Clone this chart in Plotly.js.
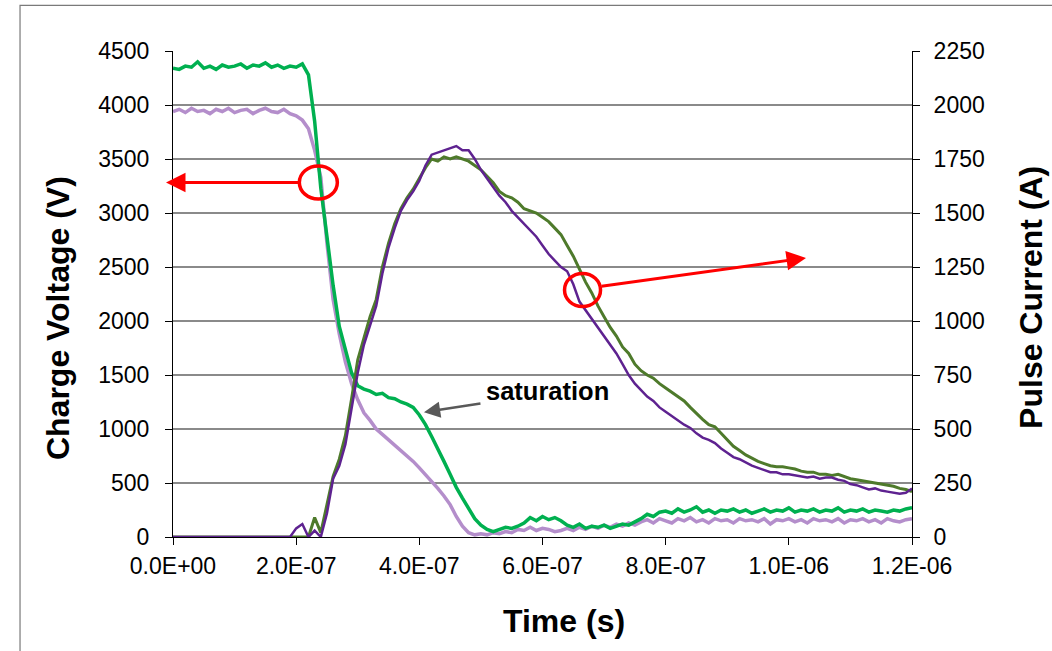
<!DOCTYPE html>
<html>
<head>
<meta charset="utf-8">
<script src="https://cdn.plot.ly/plotly-3.0.1.min.js"></script>
<style>
html, body { margin: 0; padding: 0; background: #ffffff; }
#chart { width: 1052px; height: 651px; }
</style>
</head>
<body>
<div id="chart"></div>
<script>
// Time in nanoseconds
const timeNs = [
  0, 10, 20, 30, 40, 50, 60, 70, 80, 90,
  100, 110, 120, 130, 140, 150, 160, 170, 180, 190,
  200, 210, 220, 230, 240, 250, 260, 270, 280, 290,
  300, 310, 320, 330, 340, 350, 360, 370, 380, 390,
  400, 410, 420, 430, 440, 450, 460, 470, 480, 490,
  500, 510, 520, 530, 540, 550, 560, 570, 580, 590,
  600, 610, 620, 630, 640, 650, 660, 670, 680, 690,
  700, 710, 720, 730, 740, 750, 760, 770, 780, 790,
  800, 810, 820, 830, 840, 850, 860, 870, 880, 890,
  900, 910, 920, 930, 940, 950, 960, 970, 980, 990,
  1000, 1010, 1020, 1030, 1040, 1050, 1060, 1070, 1080, 1090,
  1100, 1110, 1120, 1130, 1140, 1150, 1160, 1170, 1180, 1190, 1200
];

// Charge voltage, bright green trace (V, left axis)
const voltageGreen = [
  4340, 4330, 4360, 4350, 4400, 4340, 4360, 4330, 4370, 4350,
  4360, 4380, 4340, 4370, 4360, 4390, 4350, 4370, 4340, 4360,
  4350, 4380, 4280, 3850, 3230, 2750, 2330, 1950, 1720, 1520,
  1400, 1370, 1350, 1320, 1330, 1290, 1280, 1250, 1230, 1200,
  1130, 1040, 930, 820, 700, 580, 460, 360, 260, 170,
  110, 70, 50, 70, 90, 80, 100, 130, 180, 150,
  190, 160, 180, 150, 110, 90, 120, 80, 100, 90,
  110, 80, 100, 120, 110, 140, 170, 210, 190, 230,
  240, 220, 260, 230, 250, 280, 230, 250, 220, 250,
  240, 260, 230, 250, 220, 240, 260, 230, 250, 240,
  270, 230, 250, 240, 260, 230, 250, 240, 270, 230,
  250, 240, 260, 230, 250, 240, 230, 250, 240, 260, 270
];

// Charge voltage, light purple trace (V, left axis)
const voltagePurple = [
  3940, 3960, 3930, 3970, 3940, 3950, 3920, 3960, 3940, 3970,
  3930, 3950, 3960, 3920, 3950, 3970, 3940, 3930, 3960, 3920,
  3900, 3860, 3780, 3580, 3330, 2720, 2200, 1880, 1620, 1420,
  1270, 1150, 1080, 1000, 950, 900, 860, 810, 760, 700,
  640, 580, 510, 450, 380, 300, 190, 100, 40, 20,
  30, 20, 40, 30, 50, 40, 70, 60, 90, 60,
  80, 70, 50, 60, 80, 60, 90, 70, 100, 80,
  110, 90, 120, 100, 130, 110, 140, 160, 130, 170,
  150, 130, 170, 150, 180, 140, 160, 130, 170, 150,
  160, 130, 170, 150, 160, 140, 170, 120, 160, 150,
  170, 140, 160, 130, 170, 150, 160, 140, 170, 130,
  160, 150, 170, 140, 160, 130, 170, 150, 140, 160, 170
];

// Pulse current, dark green trace (A, right axis)
const currentGreen = [
  0, 0, 0, 0, 0, 0, 0, 0, 0, 0,
  0, 0, 0, 0, 0, 0, 0, 0, 0, 0,
  0, 0, 0, 90, 20, 150, 280, 360, 470, 640,
  820, 920, 1020, 1100, 1250, 1360, 1450, 1520, 1570, 1610,
  1660, 1710, 1750, 1740, 1760, 1750, 1760, 1750, 1740, 1720,
  1700, 1670, 1640, 1600, 1580, 1570, 1550, 1520, 1510, 1500,
  1480, 1460, 1430, 1400, 1350, 1300, 1240, 1180, 1130, 1070,
  1020, 970, 930, 880, 850, 800, 770, 750, 735, 710,
  690, 670, 650, 630, 600, 570, 545, 520, 510, 480,
  450, 420, 400, 380, 365, 350, 340, 330, 325, 325,
  320, 315, 305, 300, 300, 290, 290, 285, 290, 280,
  270, 265, 260, 255, 250, 245, 240, 235, 225, 220, 210
];

// Pulse current, dark purple trace (A, right axis)
const currentPurple = [
  0, 0, 0, 0, 0, 0, 0, 0, 0, 0,
  0, 0, 0, 0, 0, 0, 0, 0, 0, 0,
  40, 60, 0, 30, 0, 110, 270, 330, 430, 590,
  760, 890, 980, 1070, 1220, 1340, 1430, 1510, 1560, 1600,
  1650, 1720, 1770, 1780, 1790, 1800, 1810, 1790, 1790, 1750,
  1700, 1660, 1620, 1580, 1550, 1510, 1480, 1450, 1420, 1390,
  1350, 1310, 1280, 1250, 1230, 1170, 1090, 1050, 1010, 970,
  930, 890, 850, 800, 750, 710, 680, 650, 630, 600,
  580, 560, 540, 520, 505, 480, 460, 450, 435, 410,
  390, 370, 360, 345, 330, 320, 310, 300, 300, 290,
  290, 285, 280, 275, 280, 270, 275, 275, 265, 260,
  245, 240, 230, 220, 225, 215, 210, 205, 200, 205, 225
];

const xTickVals = [0, 2e-7, 4e-7, 6e-7, 8e-7, 1e-6, 1.2e-6];
const xTickText = ['0.0E+00', '2.0E-07', '4.0E-07', '6.0E-07', '8.0E-07', '1.0E-06', '1.2E-06'];

const timeS = timeNs.map(v => v * 1e-9);

const FONT = 'Liberation Sans, Arial, Helvetica, sans-serif';

const traces = [
  { x: timeS, y: voltagePurple, yaxis: 'y', type: 'scatter', mode: 'lines',
    line: { color: '#B48ECB', width: 3.5 }, hoverinfo: 'skip' },
  { x: timeS, y: voltageGreen, yaxis: 'y', type: 'scatter', mode: 'lines',
    line: { color: '#00B050', width: 3.5 }, hoverinfo: 'skip' },
  { x: timeS, y: currentGreen, yaxis: 'y2', type: 'scatter', mode: 'lines',
    line: { color: '#4E7A2B', width: 3 }, hoverinfo: 'skip' },
  { x: timeS, y: currentPurple, yaxis: 'y2', type: 'scatter', mode: 'lines',
    line: { color: '#5E2290', width: 2.5 }, hoverinfo: 'skip' }
];

const layout = {
  width: 1052, height: 651,
  margin: { l: 173, r: 140, t: 51, b: 114, pad: 0 },
  paper_bgcolor: '#ffffff', plot_bgcolor: '#ffffff',
  showlegend: false,
  font: { family: FONT, size: 23, color: '#000000' },
  xaxis: {
    range: [0, 1.2e-6], tickvals: xTickVals, ticktext: xTickText,
    ticks: 'outside', ticklen: 7, tickwidth: 1, tickcolor: '#000',
    showline: true, linecolor: '#000', linewidth: 1,
    showgrid: false, zeroline: false, ticklabelstandoff: 1,
    tickfont: { family: FONT, size: 23, color: '#000' }
  },
  yaxis: {
    range: [0, 4500], tick0: 0, dtick: 500,
    ticks: 'outside', ticklen: 7, tickwidth: 1, tickcolor: '#000',
    showline: true, linecolor: '#000', linewidth: 1,
    showgrid: true, gridcolor: '#8a8a8a', gridwidth: 1.3, zeroline: false,
    ticklabelstandoff: 11,
    tickfont: { family: FONT, size: 23, color: '#000' }
  },
  yaxis2: {
    range: [0, 2250], tick0: 0, dtick: 250, overlaying: 'y', side: 'right',
    ticks: 'outside', ticklen: 7, tickwidth: 1, tickcolor: '#000',
    showline: true, linecolor: '#000', linewidth: 1,
    showgrid: false, zeroline: false, ticklabelstandoff: 9,
    tickfont: { family: FONT, size: 23, color: '#000' }
  },
  shapes: [
    { type: 'rect', xref: 'paper', yref: 'paper', x0: -0.207, x1: 1.6, y0: -0.6, y1: 1.094,
      line: { color: '#7a7a7a', width: 1.2 }, fillcolor: 'rgba(0,0,0,0)', layer: 'below' },
    { type: 'circle', xref: 'x', yref: 'y', xsizemode: 'pixel', ysizemode: 'pixel',
      xanchor: 2.36e-7, yanchor: 3283, x0: -19, x1: 19, y0: -16.5, y1: 16.5,
      line: { color: '#FF0000', width: 3.5 } },
    { type: 'circle', xref: 'x', yref: 'y', xsizemode: 'pixel', ysizemode: 'pixel',
      xanchor: 6.65e-7, yanchor: 2287, x0: -18, x1: 18, y0: -16.5, y1: 16.5,
      line: { color: '#FF0000', width: 3.5 } }
  ],
  annotations: [
    { text: 'Charge Voltage (V)', xref: 'paper', yref: 'paper', x: -0.1556, y: 0.4505,
      textangle: -90, showarrow: false, xanchor: 'center', yanchor: 'middle',
      font: { family: FONT, size: 32, color: '#000', weight: 'bold' } },
    { text: 'Pulse Current (A)', xref: 'paper', yref: 'paper', x: 1.161, y: 0.494,
      textangle: -90, showarrow: false, xanchor: 'center', yanchor: 'middle',
      font: { family: FONT, size: 32, color: '#000', weight: 'bold' } },
    { text: 'Time (s)', xref: 'paper', yref: 'paper', x: 0.529, y: -0.172,
      showarrow: false, xanchor: 'center', yanchor: 'middle',
      font: { family: FONT, size: 32, color: '#000', weight: 'bold' } },
    { text: 'saturation', xref: 'paper', yref: 'paper', x: 0.5061, y: 0.30,
      showarrow: false, xanchor: 'center', yanchor: 'middle',
      font: { family: FONT, size: 25.5, color: '#000', weight: 'bold' } },
    { text: '', xref: 'paper', yref: 'paper', x: -0.0095, y: 0.7295,
      showarrow: true, axref: 'pixel', ayref: 'pixel', ax: 134, ay: 0,
      arrowhead: 2, arrowsize: 1.3, arrowwidth: 3, arrowcolor: '#FF0000', standoff: 0 },
    { text: '', xref: 'paper', yref: 'paper', x: 0.8566, y: 0.5742,
      showarrow: true, axref: 'pixel', ayref: 'pixel', ax: -206, ay: 28.5,
      arrowhead: 2, arrowsize: 1.3, arrowwidth: 3, arrowcolor: '#FF0000', standoff: 0 },
    { text: '', xref: 'paper', yref: 'paper', x: 0.3396, y: 0.2567,
      showarrow: true, axref: 'pixel', ayref: 'pixel', ax: 58, ay: -9,
      arrowhead: 2, arrowsize: 1.3, arrowwidth: 2.5, arrowcolor: '#595959', standoff: 0 }
  ]
};

Plotly.newPlot('chart', traces, layout, { staticPlot: true, displayModeBar: false });
</script>
</body>
</html>
